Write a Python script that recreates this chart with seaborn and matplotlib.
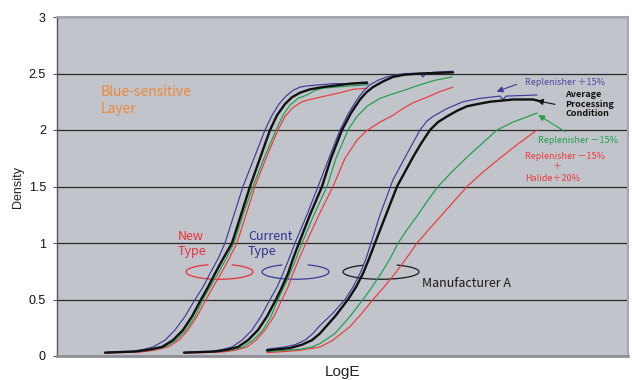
import numpy as np
import pandas as pd
import matplotlib
matplotlib.use("Agg")
import matplotlib.pyplot as plt
import seaborn as sns

# ---- characteristic-curve readings (relative LogE, density) ----
# New Type
new_blue_logE = [1.05, 1.20, 1.30, 1.42, 1.53, 1.65, 1.75, 1.85, 1.95, 2.03, 2.10, 2.18, 2.25, 2.34, 2.43,
                 2.54, 2.65, 2.72, 2.79, 2.86, 2.93, 3.00, 3.07, 3.20, 3.33, 3.57, 3.68]
new_blue_d = [0.03, 0.035, 0.04, 0.055, 0.08, 0.14, 0.23, 0.35, 0.50, 0.61, 0.73, 0.86, 1.00, 1.25, 1.50,
              1.75, 2.00, 2.13, 2.23, 2.30, 2.35, 2.38, 2.39, 2.40, 2.41, 2.41, 2.41]
new_black_logE = [1.05, 1.20, 1.35, 1.48, 1.62, 1.73, 1.83, 1.92, 2.01, 2.08, 2.15, 2.23, 2.32, 2.41, 2.50,
                  2.60, 2.70, 2.77, 2.85, 2.92, 3.00, 3.10, 3.23, 3.50, 3.67]
new_black_d = [0.03, 0.035, 0.04, 0.055, 0.08, 0.14, 0.23, 0.35, 0.50, 0.61, 0.73, 0.86, 1.00, 1.25, 1.50,
               1.75, 2.00, 2.13, 2.23, 2.29, 2.33, 2.36, 2.38, 2.41, 2.42]
new_green_logE = [1.05, 1.22, 1.38, 1.51, 1.65, 1.76, 1.86, 1.95, 2.03, 2.10, 2.18, 2.26, 2.34, 2.43, 2.53,
                  2.64, 2.76, 2.83, 2.90, 2.98, 3.07, 3.15, 3.23, 3.50, 3.68]
new_green_d = [0.03, 0.035, 0.04, 0.055, 0.08, 0.14, 0.23, 0.35, 0.50, 0.61, 0.73, 0.86, 1.00, 1.25, 1.50,
               1.75, 2.00, 2.13, 2.22, 2.28, 2.31, 2.35, 2.37, 2.39, 2.40]
new_red_logE = [1.05, 1.22, 1.40, 1.54, 1.68, 1.79, 1.88, 1.97, 2.06, 2.13, 2.21, 2.29, 2.37, 2.46, 2.55,
                2.66, 2.78, 2.85, 2.93, 3.02, 3.10, 3.20, 3.30, 3.40, 3.53, 3.67]
new_red_d = [0.025, 0.03, 0.035, 0.05, 0.08, 0.14, 0.23, 0.35, 0.50, 0.61, 0.73, 0.86, 1.00, 1.25, 1.50,
             1.75, 2.00, 2.12, 2.20, 2.25, 2.27, 2.29, 2.31, 2.33, 2.36, 2.37]

# Current Type
cur_blue_logE = [1.84, 1.98, 2.10, 2.21, 2.32, 2.42, 2.52, 2.61, 2.70, 2.77, 2.83, 2.89, 2.95, 3.07, 3.18,
                 3.29, 3.40, 3.48, 3.57, 3.63, 3.70, 3.78, 3.87, 3.97, 4.07, 4.20, 4.23, 4.26, 4.33, 4.53]
cur_blue_d = [0.03, 0.035, 0.04, 0.055, 0.08, 0.14, 0.23, 0.35, 0.50, 0.61, 0.73, 0.86, 1.00, 1.25, 1.50,
              1.75, 2.00, 2.14, 2.27, 2.34, 2.40, 2.44, 2.47, 2.49, 2.50, 2.50, 2.47, 2.50, 2.51, 2.52]
cur_black_logE = [1.84, 2.00, 2.15, 2.27, 2.38, 2.48, 2.58, 2.67, 2.76, 2.82, 2.88, 2.93, 2.99, 3.10, 3.22,
                  3.31, 3.42, 3.51, 3.60, 3.66, 3.73, 3.83, 3.93, 4.05, 4.20, 4.53]
cur_black_d = [0.03, 0.035, 0.04, 0.055, 0.08, 0.14, 0.23, 0.35, 0.50, 0.61, 0.73, 0.86, 1.00, 1.25, 1.50,
               1.75, 2.00, 2.15, 2.27, 2.33, 2.38, 2.43, 2.47, 2.49, 2.50, 2.51]
cur_green_logE = [1.84, 2.02, 2.20, 2.32, 2.43, 2.53, 2.63, 2.71, 2.78, 2.84, 2.90, 2.96, 3.02, 3.14, 3.27,
                  3.36, 3.48, 3.57, 3.67, 3.80, 3.93, 4.07, 4.20, 4.35, 4.52]
cur_green_d = [0.03, 0.035, 0.04, 0.055, 0.08, 0.14, 0.23, 0.35, 0.50, 0.61, 0.73, 0.86, 1.00, 1.25, 1.50,
               1.75, 2.00, 2.12, 2.21, 2.28, 2.32, 2.36, 2.40, 2.44, 2.47]
cur_red_logE = [1.84, 2.03, 2.22, 2.35, 2.47, 2.56, 2.65, 2.74, 2.82, 2.88, 2.93, 2.99, 3.06, 3.19, 3.33,
                3.45, 3.57, 3.66, 3.80, 3.93, 4.03, 4.13, 4.27, 4.40, 4.53]
cur_red_d = [0.025, 0.03, 0.035, 0.05, 0.08, 0.14, 0.23, 0.35, 0.50, 0.61, 0.73, 0.86, 1.00, 1.25, 1.50,
             1.75, 1.91, 1.99, 2.07, 2.13, 2.19, 2.24, 2.29, 2.34, 2.38]

# Manufacturer A
mfa_blue_logE = [2.67, 2.85, 2.95, 3.05, 3.13, 3.20, 3.33, 3.45, 3.53, 3.60, 3.66, 3.71, 3.80, 3.93, 4.07,
                 4.20, 4.27, 4.33, 4.47, 4.63, 4.80, 5.00, 5.03, 5.06, 5.37]
mfa_blue_d = [0.06, 0.08, 0.10, 0.14, 0.20, 0.27, 0.38, 0.50, 0.61, 0.73, 0.86, 1.00, 1.25, 1.56, 1.79,
              2.00, 2.08, 2.12, 2.19, 2.25, 2.28, 2.30, 2.27, 2.30, 2.31]
mfa_black_logE = [2.67, 2.90, 3.02, 3.12, 3.20, 3.35, 3.48, 3.56, 3.63, 3.69, 3.75, 3.86, 3.97, 4.05, 4.13,
                  4.21, 4.30, 4.38, 4.47, 4.57, 4.67, 4.78, 4.90, 5.13, 5.33, 5.38]
mfa_black_d = [0.05, 0.07, 0.10, 0.14, 0.20, 0.35, 0.50, 0.61, 0.73, 0.86, 1.00, 1.25, 1.50, 1.63, 1.76,
               1.88, 2.00, 2.07, 2.12, 2.17, 2.21, 2.23, 2.25, 2.27, 2.27, 2.26]
mfa_green_logE = [2.67, 2.85, 3.00, 3.12, 3.20, 3.35, 3.50, 3.63, 3.72, 3.81, 3.90, 3.98, 4.08, 4.18, 4.28,
                  4.38, 4.52, 4.67, 4.82, 4.97, 5.13, 5.25, 5.37]
mfa_green_d = [0.04, 0.05, 0.06, 0.08, 0.11, 0.20, 0.35, 0.50, 0.61, 0.73, 0.86, 1.00, 1.13, 1.25, 1.38,
               1.50, 1.63, 1.76, 1.88, 2.00, 2.07, 2.11, 2.15]
mfa_red_logE = [2.67, 2.85, 3.00, 3.20, 3.33, 3.50, 3.62, 3.73, 3.84, 3.95, 4.06, 4.17, 4.29, 4.42, 4.55,
                4.67, 4.82, 4.97, 5.17, 5.37]
mfa_red_d = [0.03, 0.04, 0.05, 0.08, 0.14, 0.26, 0.38, 0.50, 0.61, 0.73, 0.86, 1.00, 1.12, 1.25, 1.38,
             1.50, 1.62, 1.73, 1.87, 2.00]

conditions = ["Replenisher -15% + Halide +20%", "Replenisher -15%", "Replenisher +15%", "Average"]
products = ["New Type", "Current Type", "Manufacturer A"]

curves = {
    ("New Type", "Replenisher +15%"): (new_blue_logE, new_blue_d),
    ("New Type", "Average"): (new_black_logE, new_black_d),
    ("New Type", "Replenisher -15%"): (new_green_logE, new_green_d),
    ("New Type", "Replenisher -15% + Halide +20%"): (new_red_logE, new_red_d),
    ("Current Type", "Replenisher +15%"): (cur_blue_logE, cur_blue_d),
    ("Current Type", "Average"): (cur_black_logE, cur_black_d),
    ("Current Type", "Replenisher -15%"): (cur_green_logE, cur_green_d),
    ("Current Type", "Replenisher -15% + Halide +20%"): (cur_red_logE, cur_red_d),
    ("Manufacturer A", "Replenisher +15%"): (mfa_blue_logE, mfa_blue_d),
    ("Manufacturer A", "Average"): (mfa_black_logE, mfa_black_d),
    ("Manufacturer A", "Replenisher -15%"): (mfa_green_logE, mfa_green_d),
    ("Manufacturer A", "Replenisher -15% + Halide +20%"): (mfa_red_logE, mfa_red_d),
}

rows = []
for (prod, cond), (xs, ds) in curves.items():
    for i, (x, d) in enumerate(zip(xs, ds)):
        rows.append({"product": prod, "condition": cond, "order": i, "LogE": x, "Density": d})
df = pd.DataFrame(rows)

palette = {
    "Replenisher +15%": "#3b3b9c",
    "Average": "#111111",
    "Replenisher -15%": "#1f9e4a",
    "Replenisher -15% + Halide +20%": "#ec3a3c",
}
widths = {
    "Replenisher +15%": 0.85,
    "Average": 1.7,
    "Replenisher -15%": 0.85,
    "Replenisher -15% + Halide +20%": 0.85,
}

sns.set_style("white")
plt.rcParams["font.family"] = ["Liberation Sans", "Noto Sans CJK JP", "DejaVu Sans"]
jp = ["Noto Sans CJK JP", "DejaVu Sans"]

fig = plt.figure(figsize=(6.32, 3.80), dpi=100)
ax = fig.add_axes([57 / 632, 24 / 380, 571 / 632, 339 / 380])
ax.set_facecolor("#c1c4cb")

for prod in products:
    for cond in conditions:
        sub = df[(df["product"] == prod) & (df["condition"] == cond)].sort_values("order")
        sns.lineplot(data=sub, x="LogE", y="Density", sort=False, estimator=None,
                     color=palette[cond], lw=widths[cond], ax=ax, zorder=3)

ax.set_xlim(0.57, 6.28)
ax.set_ylim(0, 3)
ax.set_xticks([])
ax.set_yticks([0, 0.5, 1, 1.5, 2, 2.5, 3])
ax.set_yticklabels(["0", "0.5", "1", "1.5", "2", "2.5", "3"])
ax.tick_params(axis="y", length=3, width=0.8, color="#555555", pad=5, labelsize=9,
               labelcolor="#111111", left=True)
ax.set_axisbelow(True)
ax.yaxis.grid(True, color="#2a2a2a", lw=0.9)

for side, col, lw in [("left", "#555555", 1.0), ("bottom", "#8e9096", 2.0),
                      ("top", "#a4a6ab", 1.5), ("right", "#a4a6ab", 1.5)]:
    ax.spines[side].set_visible(True)
    ax.spines[side].set_color(col)
    ax.spines[side].set_linewidth(lw)

ax.set_xlabel("LogE", fontsize=11, color="#222222")
ax.xaxis.set_label_coords(0.5, -0.028)
ax.set_ylabel("Density", fontsize=9, color="#222222")
ax.yaxis.set_label_coords(-0.058, 0.5)

# layer title
ax.text(1.01, 2.40, "Blue-sensitive\nLayer", color="#f0883a", fontsize=10, family=jp,
        va="top", ha="left", linespacing=1.25)

# product labels
ax.text(1.78, 1.115, "New\nType", color="#e8303a", fontsize=9, family=jp,
        va="top", ha="left", linespacing=1.15)
ax.text(2.48, 1.115, "Current\nType", color="#2e3192", fontsize=9, family=jp,
        va="top", ha="left", linespacing=1.15)
ax.text(4.22, 0.643, "Manufacturer A", color="#1a1a1a", fontsize=9, family=jp,
        va="center", ha="left")

# open rings around each product family
def ring(cx, cy, a, b, t1, t2, color):
    t = np.radians(np.linspace(t1, t2, 200))
    ax.plot(cx + a * np.cos(t), cy + b * np.sin(t), color=color, lw=0.9, zorder=2)

ring(2.195, 0.745, 0.335, 0.066, 110, 428, "#e8303a")
ring(2.955, 0.745, 0.335, 0.066, 114, 428, "#3b3b9c")
ring(3.81, 0.745, 0.38, 0.066, 118, 425, "#1a1a1a")

# processing-condition callouts
arrow = dict(arrowstyle="-|>", lw=0.8, mutation_scale=9, shrinkA=0, shrinkB=0)
ax.annotate("", xy=(4.967, 2.340), xytext=(5.167, 2.404),
            arrowprops={**arrow, "color": "#3b3b9c"})
ax.text(5.25, 2.42, "Replenisher ＋15%", color="#4a4a9e", fontsize=6.5, family=jp,
        va="center", ha="left")

ax.annotate("", xy=(5.37, 2.259), xytext=(5.55, 2.227),
            arrowprops={**arrow, "color": "#111111"})
ax.text(5.65, 2.355, "Average\nProcessing\nCondition", color="#111111", fontsize=6.5,
        family=jp, weight="bold", va="top", ha="left", linespacing=1.1)

ax.annotate("", xy=(5.383, 2.133), xytext=(5.65, 1.985),
            arrowprops={**arrow, "color": "#1f9e4a"})
ax.text(5.383, 1.905, "Replenisher －15%", color="#1f9e4a", fontsize=6.5, family=jp,
        va="center", ha="left")

ax.text(5.25, 1.764, "Replenisher －15%", color="#ec3a3c", fontsize=6.5, family=jp,
        va="center", ha="left")
ax.text(5.573, 1.675, "＋", color="#ec3a3c", fontsize=6.5, family=jp,
        va="center", ha="center")
ax.text(5.25, 1.573, "Halide＋20%", color="#ec3a3c", fontsize=6.5, family=jp,
        va="center", ha="left")

fig.savefig("out.png", dpi=100, facecolor="white")
